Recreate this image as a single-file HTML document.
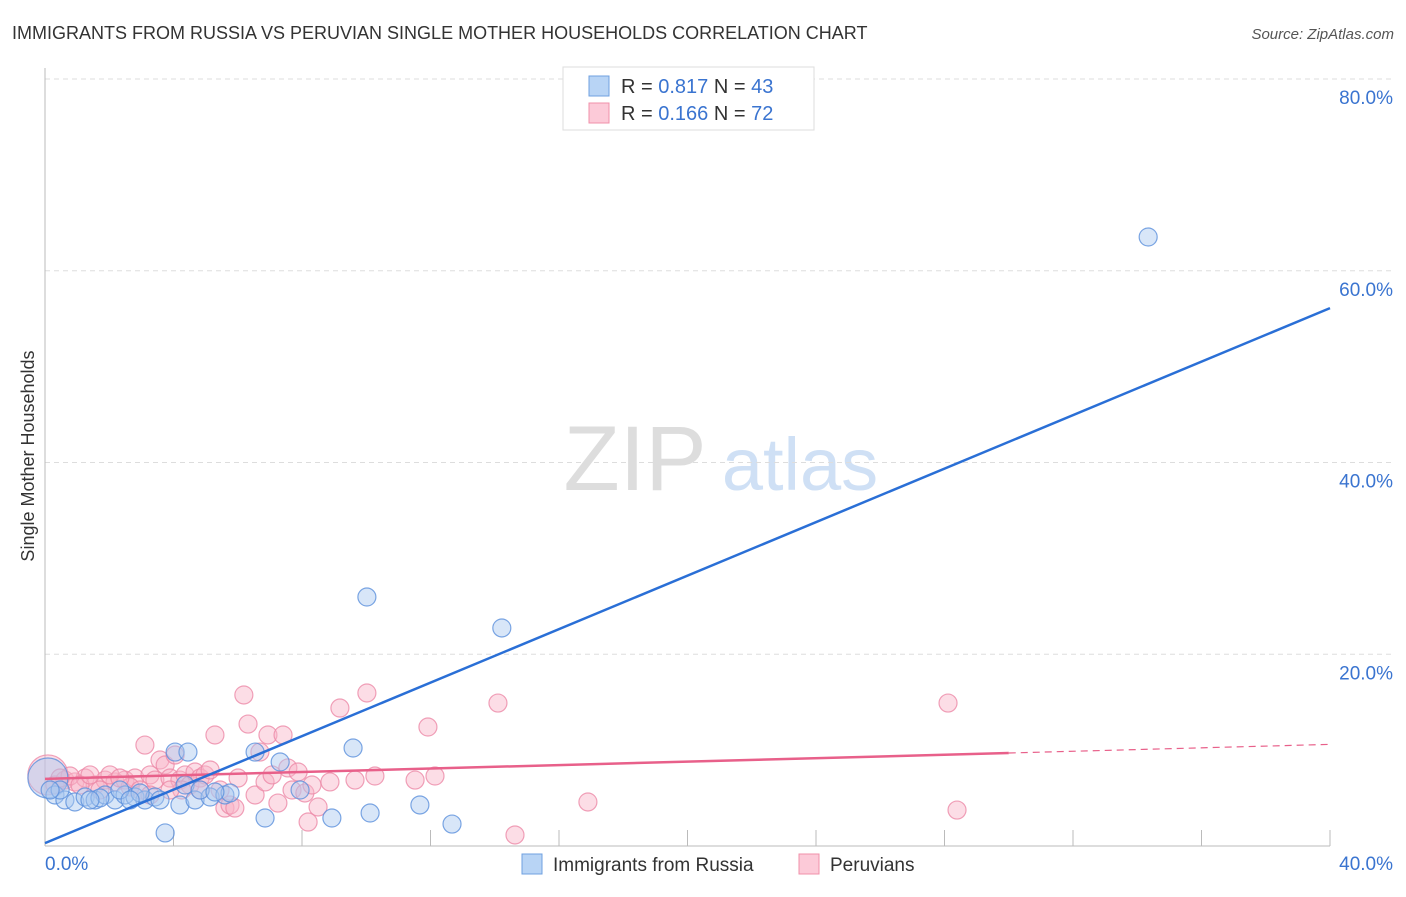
<!DOCTYPE html>
<html><head><meta charset="utf-8"><style>
body{margin:0;background:#fff;font-family:"Liberation Sans",sans-serif}
svg text{font-family:"Liberation Sans",sans-serif}
</style></head><body>
<svg id="chart" width="1406" height="892" viewBox="0 0 1406 892" xmlns="http://www.w3.org/2000/svg">
<text x="12" y="39" font-size="18" fill="#333">IMMIGRANTS FROM RUSSIA VS PERUVIAN SINGLE MOTHER HOUSEHOLDS CORRELATION CHART</text>
<text x="1394" y="39" font-size="15" fill="#555" text-anchor="end" font-style="italic">Source: ZipAtlas.com</text>
<text transform="translate(34,456) rotate(-90)" font-size="18" fill="#333" text-anchor="middle">Single Mother Households</text>
<g>
<text x="635" y="490" font-size="92" fill="#ddd" text-anchor="middle" font-family="Liberation Serif">ZIP</text>
<text x="800" y="490" font-size="74" fill="#cfe0f5" text-anchor="middle">atlas</text>
</g>
<g id="grid"></g><g id="axes"></g><g id="marks"></g>
<g>
<rect x="563" y="67" width="251" height="63" fill="#fff" stroke="#ddd"/>
<rect x="589" y="76" width="20" height="20" fill="#b8d4f5" stroke="#6fa0e0"/>
<rect x="589" y="103" width="20" height="20" fill="#fccad8" stroke="#f090aa"/>
<text x="621" y="93" font-size="20" fill="#333">R = <tspan fill="#3a74d0">0.817</tspan>   N = <tspan fill="#3a74d0">43</tspan></text>
<text x="621" y="120" font-size="20" fill="#333">R = <tspan fill="#3a74d0">0.166</tspan>   N = <tspan fill="#3a74d0">72</tspan></text>
</g>
<g>
<rect x="522" y="854" width="20" height="20" fill="#b8d4f5" stroke="#6fa0e0"/>
<text x="553" y="871" font-size="19" fill="#333">Immigrants from Russia</text>
<rect x="799" y="854" width="20" height="20" fill="#fccad8" stroke="#f090aa"/>
<text x="830" y="871" font-size="19" fill="#333">Peruvians</text>
</g>
</svg>
<script>
const yTicks=[20,40,60,80];
const yTickLabels=["20.0%","40.0%","60.0%","80.0%"];
const xTicks=[0,4,8,12,16,20,24,28,32,36,40];
const blueX=[0.09,0.31,0.62,0.93,1.25,1.56,1.87,2.18,2.49,2.80,3.11,3.42,3.74,4.05,4.45,4.20,4.67,5.14,5.60,5.76,6.54,6.85,7.32,7.94,8.93,9.59,10.02,10.12,11.67,12.67,14.22,34.34,0.47,1.71,2.96,3.58,4.36,4.83,5.29,2.33,2.65,1.40,0.16];
const blueY=[7.09,5.32,4.80,4.59,5.11,4.80,5.32,4.80,5.32,5.11,4.80,5.11,1.36,9.80,9.80,4.28,4.80,5.11,5.32,5.53,9.80,2.92,8.76,5.84,2.92,10.22,25.97,3.44,4.28,2.29,22.74,63.52,5.84,5.01,5.53,4.80,6.36,5.84,5.63,5.84,4.80,4.80,5.84];
const pinkX=[0.09,0.31,0.62,0.93,1.25,1.56,1.87,2.18,2.49,2.80,3.11,3.27,3.42,3.58,3.74,3.89,4.05,4.20,4.36,4.51,4.67,4.83,4.98,5.14,5.29,5.45,5.60,5.76,5.91,6.01,6.19,6.32,6.54,6.69,6.85,6.94,7.07,7.25,7.41,7.56,7.69,7.88,8.09,8.19,8.31,8.50,8.87,9.18,9.65,10.02,10.27,11.52,11.92,12.14,14.10,14.63,16.90,28.11,28.39,0.78,1.09,1.71,2.02,2.65,2.96,2.33,0.47,1.40,3.27,4.83,4.26,3.89];
const pinkY=[7.41,6.36,6.88,6.68,7.09,6.36,6.88,6.68,6.88,7.09,10.53,7.41,6.88,8.97,8.45,7.09,9.49,6.88,7.41,6.36,7.72,7.09,7.41,7.93,11.58,5.84,3.96,4.28,3.96,7.09,15.75,12.72,5.32,9.80,6.68,11.58,7.41,4.48,11.58,8.14,5.84,7.72,5.53,2.50,6.36,4.07,6.68,14.39,6.88,15.96,7.30,6.88,12.41,7.30,14.91,1.15,4.59,14.91,3.75,7.30,6.36,5.84,7.41,6.15,5.84,7.09,7.09,7.41,5.32,5.84,5.84,5.84];
const blueTrend=[0.3,56.1];
const pinkTrend=[7.0,10.6];
const pinkSolidEnd=30;
const NS="http://www.w3.org/2000/svg";
const X0=45,X1=1330,Y0=846,Y1=79;
function sx(v){return X0+(v/40)*(X1-X0);}
function sy(v){return Y0-(v/80)*(Y0-Y1);}
function mk(t,a,p){const e=document.createElementNS(NS,t);for(const k in a)e.setAttribute(k,a[k]);document.getElementById(p).appendChild(e);return e;}
yTicks.forEach((t,i)=>{
 const l=mk('line',{x1:X0,x2:1394,y1:sy(t),y2:sy(t),stroke:'#ddd','stroke-dasharray':'5,4'},'grid');
 
 
 const tx=mk('text',{x:1393,y:sy(t)+25,'font-size':19,fill:'#3a74d0','text-anchor':'end'},'axes');
 tx.textContent=yTickLabels[i];
 
 
});
const ax=mk('line',{x1:X0,x2:X0,y1:68,y2:Y0,stroke:'#bbb'},'axes');


const bx=mk('line',{x1:X0,x2:X1,y1:Y0,y2:Y0,stroke:'#bbb'},'axes');


xTicks.forEach(t=>{
 const l=mk('line',{x1:sx(t),x2:sx(t),y1:Y0,y2:Y0-16,stroke:'#bbb'},'axes');
 
 
});
const xl0=mk('text',{x:45,y:870,'font-size':19,fill:'#3a74d0'},'axes');xl0.textContent='0.0%';


const xl1=mk('text',{x:1393,y:870,'font-size':19,fill:'#3a74d0','text-anchor':'end'},'axes');xl1.textContent='40.0%';


function dots(xs,ys,fill,stroke,name){xs.forEach((x,i)=>{
 const c=mk('circle',{cx:sx(x),cy:sy(ys[i]),r:i===0?20:9,fill:fill,'fill-opacity':0.45,stroke:stroke,'stroke-opacity':0.8,'stroke-width':1.2},'marks');
 
 
});}
dots(pinkX,pinkY,'#f8b4c8','#ec8aa8','peruvian-point');
dots(blueX,blueY,'#a8c8f0','#5b90dc','russia-point');
const pl=mk('line',{x1:sx(0),y1:sy(pinkTrend[0]),x2:sx(pinkSolidEnd),y2:sy(pinkTrend[0]+(pinkTrend[1]-pinkTrend[0])*pinkSolidEnd/40),stroke:'#e8608a','stroke-width':2.5},'marks');


const pd=mk('line',{x1:sx(pinkSolidEnd),y1:sy(pinkTrend[0]+(pinkTrend[1]-pinkTrend[0])*pinkSolidEnd/40),x2:sx(40),y2:sy(pinkTrend[1]),stroke:'#e8608a','stroke-width':1.2,'stroke-dasharray':'7,5'},'marks');


const bl=mk('line',{x1:sx(0),y1:sy(blueTrend[0]),x2:sx(40),y2:sy(blueTrend[1]),stroke:'#2a6fd6','stroke-width':2.5},'marks');


</script>
</body></html>
